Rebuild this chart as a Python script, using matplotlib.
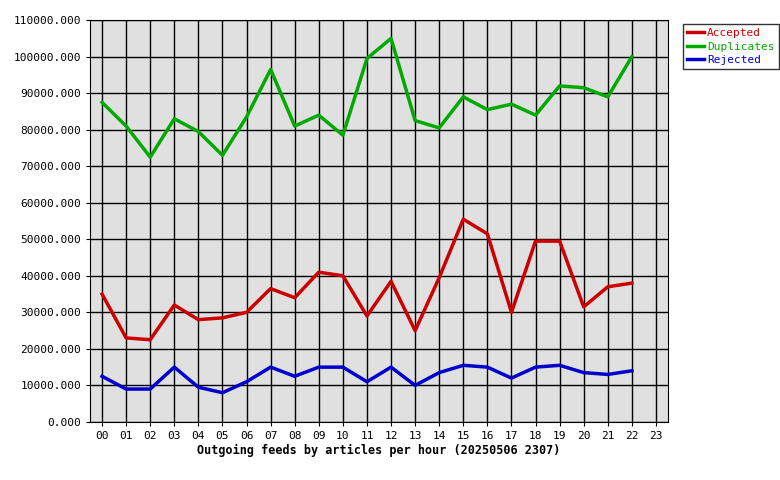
import matplotlib
matplotlib.use("Agg")
import matplotlib.pyplot as plt
from matplotlib.ticker import FuncFormatter, MultipleLocator

hours = [f"{h:02d}" for h in range(24)]
accepted = [35000, 23000, 22500, 32000, 28000, 28500, 30000, 36500, 34000, 41000, 40000, 29000,
            38500, 25000, 39500, 55500, 51500, 30000, 49500, 49500, 31500, 37000, 38000]
duplicates = [87500, 81000, 72500, 83000, 79500, 73000, 83500, 96500, 81000, 84000, 78500, 99500,
              105000, 82500, 80500, 89000, 85500, 87000, 84000, 92000, 91500, 89000, 100000]
rejected = [12500, 9000, 9000, 15000, 9500, 8000, 11000, 15000, 12500, 15000, 15000, 11000,
            15000, 10000, 13500, 15500, 15000, 12000, 15000, 15500, 13500, 13000, 14000]

plt.rcParams['font.family'] = 'DejaVu Sans Mono'
fig = plt.figure(figsize=(7.8, 4.8), dpi=100)
ax = fig.add_axes([0.1154, 0.121, 0.741, 0.837])
ax.set_facecolor('#e0e0e0')
x = list(range(len(accepted)))
ax.plot(x, accepted, color='#cc0000', lw=2.5, label='Accepted')
ax.plot(x, duplicates, color='#00aa00', lw=2.5, label='Duplicates')
ax.plot(x, rejected, color='#0000cc', lw=2.5, label='Rejected')
ax.set_xlim(-0.5, 23.5)
ax.set_ylim(0, 110000)
ax.set_xticks(range(24))
ax.set_xticklabels(hours)
ax.yaxis.set_major_locator(MultipleLocator(10000))
ax.yaxis.set_major_formatter(FuncFormatter(lambda v, p: f"{v:.3f}"))
ax.grid(True, color='black', lw=1)
ax.set_axisbelow(True)
ax.tick_params(labelsize=8, length=3)
for s in ax.spines.values():
    s.set_color('black')
ax.set_xlabel('Outgoing feeds by articles per hour (20250506 2307)', fontsize=8.5,
              fontweight='bold', labelpad=2)
leg = fig.legend(loc='upper left', bbox_to_anchor=(0.868, 0.962), fontsize=8,
                 frameon=True, fancybox=False, edgecolor='black', handlelength=1.5,
                 borderpad=0.4, labelspacing=0.3, handletextpad=0.3)
for t, c in zip(leg.get_texts(), ['#cc0000', '#00aa00', '#0000cc']):
    t.set_color(c)
fig.savefig('out.png', dpi=100)
